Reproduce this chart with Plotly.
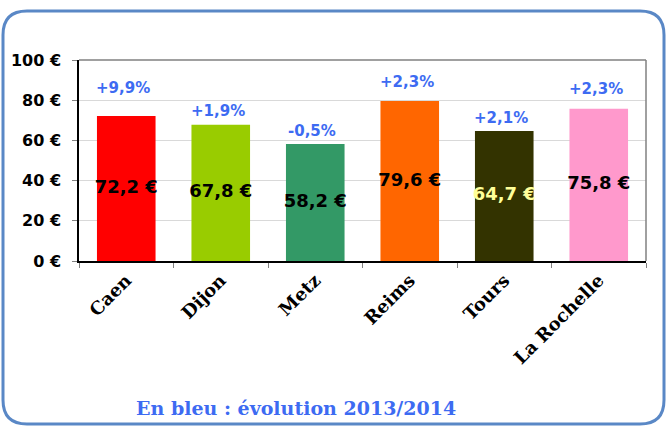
import plotly.graph_objects as go

cities = ["Caen", "Dijon", "Metz", "Reims", "Tours", "La Rochelle"]
prices = [72.2, 67.8, 58.2, 79.6, 64.7, 75.8]
evolution = ["+9,9%", "+1,9%", "-0,5%", "+2,3%", "+2,1%", "+2,3%"]
bar_colors = ["#FF0000", "#99CC00", "#339966", "#FF6600", "#333300", "#FF99CC"]
label_colors = ["#000000", "#000000", "#000000", "#000000", "#FFFF99", "#000000"]
pct_shift = [28, 14, 13, 19, 13, 20]  # pixel lift of each blue label above its bar

W, H = 669, 426
L, R, T, B = 79, 23, 60, 165
pw, ph = W - L - R, H - T - B

def px(x):
    return (x - L) / pw

def py(y):
    return (H - B - y) / ph

num_font = "DejaVu Sans"
slab_font = "DejaVu Serif"
blue = "#3D6BF2"

fig = go.Figure()

fig.add_trace(go.Bar(
    x=cities, y=prices,
    marker=dict(color=bar_colors, line=dict(width=0)),
    width=0.62,
    hoverinfo="x+y",
))

# value labels in the middle of each bar
fig.add_trace(go.Scatter(
    x=cities, y=[p / 2 for p in prices],
    mode="text",
    text=[f"{p:.1f} €".replace(".", ",") for p in prices],
    textfont=dict(family=num_font, size=18, color=label_colors, weight="bold"),
    cliponaxis=False,
    hoverinfo="skip",
))

for c, p, e, s in zip(cities, prices, evolution, pct_shift):
    fig.add_annotation(x=c, y=p, text=e, showarrow=False, yshift=s, xshift=-3,
                       font=dict(family=num_font, size=15, color=blue, weight="bold"))

fig.add_annotation(xref="paper", yref="paper", x=px(296), y=py(408),
                   xanchor="center", yanchor="middle",
                   text="En bleu : évolution 2013/2014", showarrow=False,
                   font=dict(family=slab_font, size=19, color=blue, weight="bold"))

# plot frame (top and right) in gray
fig.add_shape(type="line", xref="paper", yref="paper", x0=0, x1=1, y0=1, y1=1,
              line=dict(color="#808080", width=1.5))
fig.add_shape(type="line", xref="paper", yref="paper", x0=1, x1=1, y0=0, y1=1,
              line=dict(color="#808080", width=1.5))

# rounded blue outer border
x0, x1, y0, y1, r = 3, 664, 11, 424, 24
path = (f"M {px(x0 + r)} {py(y0)} L {px(x1 - r)} {py(y0)} "
        f"Q {px(x1)} {py(y0)} {px(x1)} {py(y0 + r)} L {px(x1)} {py(y1 - r)} "
        f"Q {px(x1)} {py(y1)} {px(x1 - r)} {py(y1)} L {px(x0 + r)} {py(y1)} "
        f"Q {px(x0)} {py(y1)} {px(x0)} {py(y1 - r)} L {px(x0)} {py(y0 + r)} "
        f"Q {px(x0)} {py(y0)} {px(x0 + r)} {py(y0)} Z")
fig.add_shape(type="path", xref="paper", yref="paper", path=path,
              line=dict(color="#5A88C6", width=3))

fig.update_layout(
    width=W, height=H,
    margin=dict(l=L, r=R, t=T, b=B, pad=0),
    paper_bgcolor="white", plot_bgcolor="white",
    showlegend=False,
    xaxis=dict(
        type="category",
        tickangle=-45,
        tickson="boundaries",
        ticks="outside", ticklen=5, tickcolor="#808080",
        showline=True, linecolor="black", linewidth=1.5,
        showgrid=False,
        tickfont=dict(family=slab_font, size=18, color="black", weight="bold"),
    ),
    yaxis=dict(
        range=[0, 100],
        tickvals=[0, 20, 40, 60, 80, 100],
        ticktext=["0 €", "20 €", "40 €", "60 €", "80 €", "100 €"],
        ticks="outside", ticklen=5, tickcolor="#808080",
        ticklabelstandoff=8,
        showline=True, linecolor="black", linewidth=1.5,
        gridcolor="#D9D9D9", gridwidth=1,
        zeroline=False,
        tickfont=dict(family=num_font, size=16, color="black", weight="bold"),
    ),
)

fig.write_html("out.html", config={"displayModeBar": False},
               post_script="document.body.style.margin='0';")
